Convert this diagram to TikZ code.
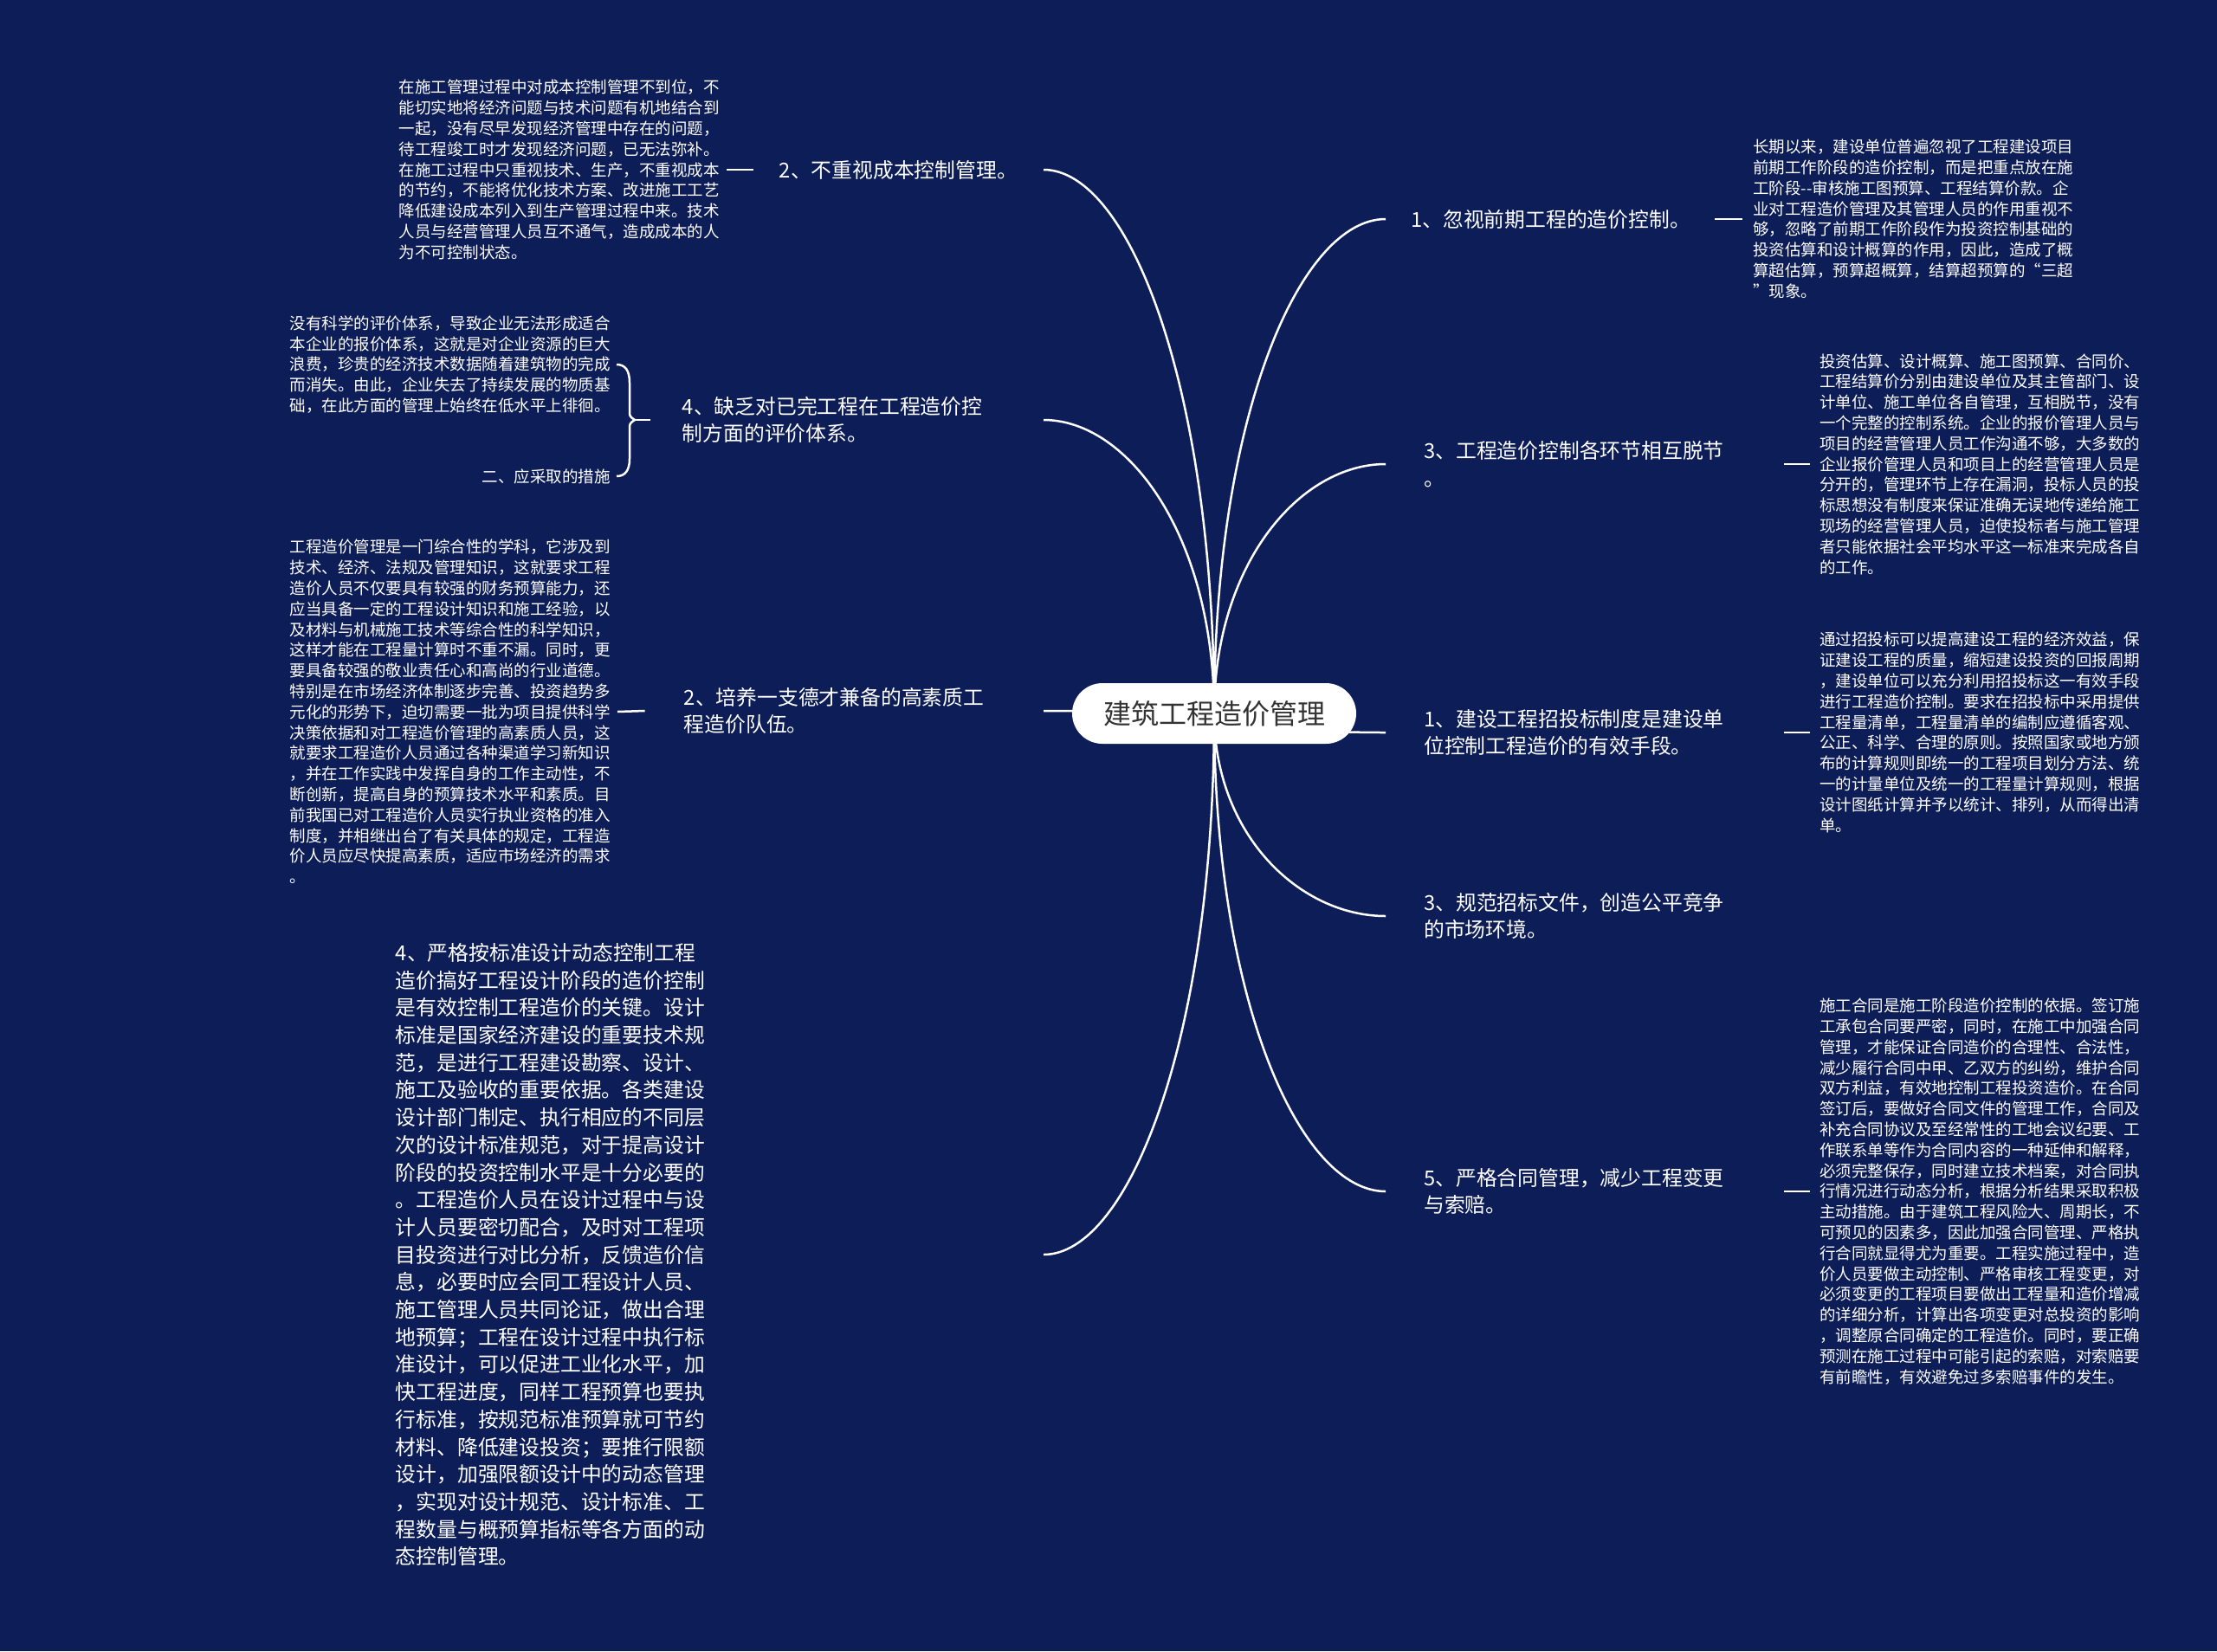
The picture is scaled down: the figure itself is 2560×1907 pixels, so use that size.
\documentclass[tikz,border=0pt]{standalone}
\usepackage{fontspec}
\newfontfamily\cjk{Noto Sans CJK SC}
\usetikzlibrary{calc}
\definecolor{bgnavy}{RGB}{13,29,88}
\definecolor{rootgray}{RGB}{51,51,51}
\pgfdeclarelayer{back}
\pgfdeclarelayer{links}
\pgfsetlayers{back,links,main}
\newcommand\mmcurve[2]{\draw[conn] let \p1=(#1), \p2=(#2) in (\p1) .. controls (\x1, {\y1+0.6*((\y2)-(\y1))}) and ({\x1+0.5*((\x2)-(\x1))}, \y2) .. (\p2);}
\begin{document}
\begin{tikzpicture}[x=1pt,y=-1pt,
  lbl/.style={text=white, font=\cjk\fontsize{23.8}{31.7}\selectfont, align=left, inner ysep=2pt},
  rlbl/.style={lbl, anchor=west, inner xsep=44pt, text width=372pt},
  det/.style={text=white, font=\cjk\fontsize{18.5}{23.8}\selectfont, align=left, inner ysep=2pt},
  rootbox/.style={fill=white, rounded corners=35pt, minimum width=328pt, minimum height=70pt, inner sep=0pt, text=rootgray, font=\cjk\fontsize{32}{38}\selectfont},
  conn/.style={draw=white, line width=2.5pt},
  ]
\useasboundingbox (0,0) rectangle (2560,1907);
\begin{pgfonlayer}{back}
\fill[bgnavy] (0,0) rectangle (2560,1907);
\end{pgfonlayer}

\node[rootbox] (root) at (1402,824) {建筑工程造价管理};

% right labels
\node[lbl, anchor=west, inner xsep=29pt, text width=322pt] (R1) at (1600,253) {1、忽视前期工程的造价控制。};
\node[rlbl] (R2) at (1600,536) {3、工程造价控制各环节相互脱节\\。};
\node[rlbl] (R3) at (1600,846) {1、建设工程招投标制度是建设单\\位控制工程造价的有效手段。};
\node[rlbl] (R4) at (1600,1058) {3、规范招标文件，创造公平竞争\\的市场环境。};
\node[rlbl] (R5) at (1600,1376) {5、严格合同管理，减少工程变更\\与索赔。};

% right details
\node[det, anchor=west, inner xsep=12pt] (R1d) at (2012,253) {长期以来，建设单位普遍忽视了工程建设项目\\前期工作阶段的造价控制，而是把重点放在施\\工阶段-{}-审核施工图预算、工程结算价款。企\\业对工程造价管理及其管理人员的作用重视不\\够，忽略了前期工作阶段作为投资控制基础的\\投资估算和设计概算的作用，因此，造成了概\\算超估算，预算超概算，结算超预算的“三超\\”现象。};
\node[det, anchor=west, inner xsep=11pt] (R2d) at (2090,536) {投资估算、设计概算、施工图预算、合同价、\\工程结算价分别由建设单位及其主管部门、设\\计单位、施工单位各自管理，互相脱节，没有\\一个完整的控制系统。企业的报价管理人员与\\项目的经营管理人员工作沟通不够，大多数的\\企业报价管理人员和项目上的经营管理人员是\\分开的，管理环节上存在漏洞，投标人员的投\\标思想没有制度来保证准确无误地传递给施工\\现场的经营管理人员，迫使投标者与施工管理\\者只能依据社会平均水平这一标准来完成各自\\的工作。};
\node[det, anchor=west, inner xsep=11pt] (R3d) at (2090,846) {通过招投标可以提高建设工程的经济效益，保\\证建设工程的质量，缩短建设投资的回报周期\\，建设单位可以充分利用招投标这一有效手段\\进行工程造价控制。要求在招投标中采用提供\\工程量清单，工程量清单的编制应遵循客观、\\公正、科学、合理的原则。按照国家或地方颁\\布的计算规则即统一的工程项目划分方法、统\\一的计量单位及统一的工程量计算规则，根据\\设计图纸计算并予以统计、排列，从而得出清\\单。};
\node[det, anchor=west, inner xsep=11pt] (R5d) at (2090,1376) {施工合同是施工阶段造价控制的依据。签订施\\工承包合同要严密，同时，在施工中加强合同\\管理，才能保证合同造价的合理性、合法性，\\减少履行合同中甲、乙双方的纠纷，维护合同\\双方利益，有效地控制工程投资造价。在合同\\签订后，要做好合同文件的管理工作，合同及\\补充合同协议及至经常性的工地会议纪要、工\\作联系单等作为合同内容的一种延伸和解释，\\必须完整保存，同时建立技术档案，对合同执\\行情况进行动态分析，根据分析结果采取积极\\主动措施。由于建筑工程风险大、周期长，不\\可预见的因素多，因此加强合同管理、严格执\\行合同就显得尤为重要。工程实施过程中，造\\价人员要做主动控制、严格审核工程变更，对\\必须变更的工程项目要做出工程量和造价增减\\的详细分析，计算出各项变更对总投资的影响\\，调整原合同确定的工程造价。同时，要正确\\预测在施工过程中可能引起的索赔，对索赔要\\有前瞻性，有效避免过多索赔事件的发生。};

% left labels
\node[lbl, anchor=east, inner xsep=30pt, text width=275pt] (L1) at (1205,196) {2、不重视成本控制管理。};
\node[lbl, anchor=east, inner xsep=37pt, text width=380pt] (L2) at (1205,485) {4、缺乏对已完工程在工程造价控\\制方面的评价体系。};
\node[lbl, anchor=east, inner xsep=45pt, text width=370pt] (L3) at (1205,821) {2、培养一支德才兼备的高素质工\\程造价队伍。};
\node[lbl, anchor=east, inner xsep=8pt, text width=740pt] (L4) at (1205,1449) {4、严格按标准设计动态控制工程\\造价搞好工程设计阶段的造价控制\\是有效控制工程造价的关键。设计\\标准是国家经济建设的重要技术规\\范，是进行工程建设勘察、设计、\\施工及验收的重要依据。各类建设\\设计部门制定、执行相应的不同层\\次的设计标准规范，对于提高设计\\阶段的投资控制水平是十分必要的\\。工程造价人员在设计过程中与设\\计人员要密切配合，及时对工程项\\目投资进行对比分析，反馈造价信\\息，必要时应会同工程设计人员、\\施工管理人员共同论证，做出合理\\地预算；工程在设计过程中执行标\\准设计，可以促进工业化水平，加\\快工程进度，同样工程预算也要执\\行标准，按规范标准预算就可节约\\材料、降低建设投资；要推行限额\\设计，加强限额设计中的动态管理\\，实现对设计规范、设计标准、工\\程数量与概预算指标等各方面的动\\态控制管理。};

% left details
\node[det, anchor=east, inner xsep=8pt] (L1d) at (839,196) {在施工管理过程中对成本控制管理不到位，不\\能切实地将经济问题与技术问题有机地结合到\\一起，没有尽早发现经济管理中存在的问题，\\待工程竣工时才发现经济问题，已无法弥补。\\在施工过程中只重视技术、生产，不重视成本\\的节约，不能将优化技术方案、改进施工工艺\\降低建设成本列入到生产管理过程中来。技术\\人员与经营管理人员互不通气，造成成本的人\\为不可控制状态。};
\node[det, anchor=east, inner xsep=7pt] (L2a) at (712,421) {没有科学的评价体系，导致企业无法形成适合\\本企业的报价体系，这就是对企业资源的巨大\\浪费，珍贵的经济技术数据随着建筑物的完成\\而消失。由此，企业失去了持续发展的物质基\\础，在此方面的管理上始终在低水平上徘徊。};
\node[det, anchor=east, inner xsep=7pt] (L2b) at (712,550) {二、应采取的措施};
\node[det, anchor=east, inner xsep=8pt] (L3d) at (713,822) {工程造价管理是一门综合性的学科，它涉及到\\技术、经济、法规及管理知识，这就要求工程\\造价人员不仅要具有较强的财务预算能力，还\\应当具备一定的工程设计知识和施工经验，以\\及材料与机械施工技术等综合性的科学知识，\\这样才能在工程量计算时不重不漏。同时，更\\要具备较强的敬业责任心和高尚的行业道德。\\特别是在市场经济体制逐步完善、投资趋势多\\元化的形势下，迫切需要一批为项目提供科学\\决策依据和对工程造价管理的高素质人员，这\\就要求工程造价人员通过各种渠道学习新知识\\，并在工作实践中发挥自身的工作主动性，不\\断创新，提高自身的预算技术水平和素质。目\\前我国已对工程造价人员实行执业资格的准入\\制度，并相继出台了有关具体的规定，工程造\\价人员应尽快提高素质，适应市场经济的需求\\。};

% tails
\draw[conn] (R1.east) -- (R1d.west);
\draw[conn] (R2.east) -- (R2d.west);
\draw[conn] (R3.east) -- (R3d.west);
\draw[conn] (R5.east) -- (R5d.west);
\draw[conn] (L1d.east) -- (L1.west);
\draw[conn] (L3d.east) -- (L3.west);
\draw[conn] (L2a.east) .. controls (722,421) and (727,428) .. (727,442) -- (727,474) .. controls (727,481) .. (733,485) coordinate (btip) .. controls (727,489) .. (727,496) -- (727,530) .. controls (727,543) and (722,550) .. (L2b.east);
\draw[conn] (btip) -- (L2.west);

% curves from root
\begin{pgfonlayer}{links}
\mmcurve{root.center}{R1.west}
\mmcurve{root.center}{R2.west}
\mmcurve{root.center}{R3.west}
\mmcurve{root.center}{R4.west}
\mmcurve{root.center}{R5.west}
\mmcurve{root.center}{L1.east}
\mmcurve{root.center}{L2.east}
\mmcurve{root.center}{L3.east}
\mmcurve{root.center}{L4.east}
\end{pgfonlayer}
\end{tikzpicture}
\end{document}
